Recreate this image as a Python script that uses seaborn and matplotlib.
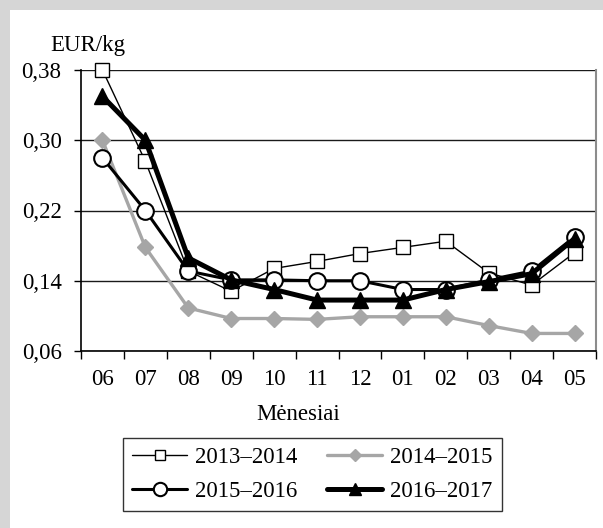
import numpy as np
import pandas as pd
import seaborn as sns
import matplotlib.pyplot as plt
from matplotlib.patches import Rectangle

#########################
# Data
#########################

months = ['06', '07', '08', '09', '10', '11', '12', '01', '02', '03', '04', '05']
s_2013 = [0.380, 0.276, 0.151, 0.128, 0.154, 0.162, 0.171, 0.178, 0.185, 0.149, 0.135, 0.172]
s_2014 = [0.300, 0.178, 0.109, 0.097, 0.097, 0.096, 0.099, 0.099, 0.099, 0.089, 0.080, 0.080]
s_2015 = [0.280, 0.220, 0.151, 0.141, 0.141, 0.140, 0.140, 0.130, 0.130, 0.141, 0.151, 0.190]
s_2016 = [0.350, 0.300, 0.166, 0.141, 0.130, 0.118, 0.118, 0.118, 0.130, 0.139, 0.148, 0.188]
y_ticks = [0.06, 0.14, 0.22, 0.30, 0.38]

#########################
# Plot
#########################

sns.set_style("white")
plt.rcParams['font.family'] = ['Liberation Serif', 'DejaVu Serif']
plt.rcParams['text.color'] = 'black'
plt.rcParams['xtick.color'] = 'black'
plt.rcParams['ytick.color'] = 'black'
fs = 16.5

fig = plt.figure(figsize=(6.03, 5.28), dpi=100)
fig.patch.set_facecolor('#d6d6d6')
fig.patches.append(Rectangle((10 / 603, 0), 1, 1 - 10 / 528, transform=fig.transFigure,
                             facecolor='white', edgecolor='none', zorder=-10))

ax = fig.add_axes([81 / 603, 1 - 351 / 528, 515 / 603, 281 / 528])
ax.set_facecolor('white')

x = np.arange(len(months))
df = pd.DataFrame({'x': x, '2013–2014': s_2013, '2014–2015': s_2014,
                   '2015–2016': s_2015, '2016–2017': s_2016})

styles = {
    '2013–2014': dict(color='black', lw=1.0, marker='s', ms=9.5, mfc='white', mec='black', mew=1.0, zorder=4),
    '2014–2015': dict(color='#a6a6a6', lw=2.4, marker='D', ms=8, mfc='#a6a6a6', mec='#a6a6a6', mew=1.0, zorder=3),
    '2015–2016': dict(color='black', lw=2.2, marker='o', ms=12, mfc='white', mec='black', mew=1.5, zorder=5),
    '2016–2017': dict(color='black', lw=3.6, marker='^', ms=11, mfc='black', mec='black', mew=1.0, zorder=6),
}

for name, st in styles.items():
    sns.lineplot(data=df, x='x', y=name, ax=ax, label=name, sort=False,
                 color=st['color'], linewidth=st['lw'], marker=st['marker'],
                 markersize=st['ms'], markerfacecolor=st['mfc'],
                 markeredgecolor=st['mec'], markeredgewidth=st['mew'],
                 zorder=st['zorder'], clip_on=False)

ax.set_xlim(-0.5, len(months) - 0.5)
ax.set_ylim(0.06, 0.38)

# y axis
ax.set_yticks(y_ticks)
ax.set_yticklabels([f'{v:.2f}'.replace('.', ',') for v in y_ticks], fontsize=fs)
ax.yaxis.grid(True, color='#1a1a1a', lw=1.0)
ax.tick_params(axis='y', length=5, width=1, color='black', direction='out', left=True, pad=9)

# x axis: tick marks at category boundaries, labels at centres
ax.set_xticks(np.arange(-0.5, len(months), 1.0))
ax.set_xticklabels([])
ax.set_xticks(x, minor=True)
ax.set_xticklabels(months, minor=True, fontsize=fs)
ax.tick_params(axis='x', which='major', length=6, width=1, color='black', direction='out', bottom=True)
ax.tick_params(axis='x', which='minor', length=0, pad=13)

for side in ['left', 'bottom']:
    ax.spines[side].set_color('black')
    ax.spines[side].set_linewidth(1.2)
ax.spines['top'].set_visible(False)
ax.spines['right'].set_color('#8c8c8c')
ax.spines['right'].set_linewidth(1.5)

ax.set_xlabel('')
ax.set_ylabel('')
fig.text(88 / 603, 1 - 45 / 528, 'EUR/kg', fontsize=fs, ha='center', va='center')
fig.text(298 / 603, 1 - 414 / 528, 'Mėnesiai', fontsize=fs, ha='center', va='center')

# legend: row 1 = 2013, 2014; row 2 = 2015, 2016 (matplotlib fills by column)
handles, labels = ax.get_legend_handles_labels()
order = [0, 2, 1, 3]
leg = ax.legend([handles[i] for i in order], [labels[i] for i in order],
                ncol=2, loc='upper left', bbox_to_anchor=(123 / 603, 1 - 438 / 528),
                bbox_transform=fig.transFigure, fontsize=fs, frameon=True,
                fancybox=False, edgecolor='black', handlelength=2.4,
                columnspacing=1.3, borderpad=0.4, borderaxespad=0,
                labelspacing=0.55, handletextpad=0.35, markerscale=0.8)
leg.get_frame().set_linewidth(1.0)

plt.savefig('out.png', dpi=100, facecolor=fig.get_facecolor())
